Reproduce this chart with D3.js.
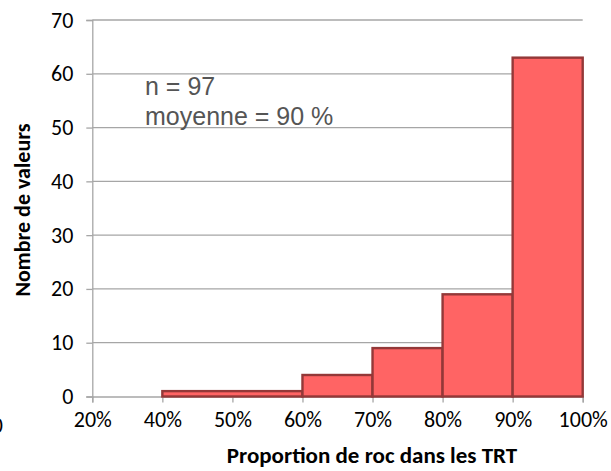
<!DOCTYPE html>
<html>
<head>
<meta charset="utf-8">
<script src="https://cdn.jsdelivr.net/npm/d3@7"></script>
<style>
  html, body { margin: 0; padding: 0; background: #fff; }
  svg { display: block; }
</style>
</head>
<body>
<svg id="chart" width="611" height="471"></svg>
<script>
// ---- data ----
const edgeLabels = ["20%", "40%", "50%", "60%", "70%", "80%", "90%", "100%"];
const binStart = ["40%", "60%", "70%", "80%", "90%"];
const binEnd   = ["60%", "70%", "80%", "90%", "100%"];
const counts   = [1, 4, 9, 19, 63];
const yTicks   = [0, 10, 20, 30, 40, 50, 60, 70];
const annotation = ["n = 97", "moyenne = 90 %"];
const xTitle = "Proportion de roc dans les TRT";
const yTitle = "Nombre de valeurs";

(function () {
// ---- layout ----
const svg = d3.select("#chart");
const pLeft = 92.3, pRight = 582.7, pTop = 20, pBottom = 396.5;
const labelFont = "Calibri, Carlito, Lato, 'Open Sans', sans-serif";

const x = d3.scalePoint().domain(edgeLabels).range([pLeft, pRight]);
const y = d3.scaleLinear().domain([0, 70]).range([pBottom, pTop]);

// gridlines
svg.append("g")
  .selectAll("line").data(yTicks.filter(d => d > 0)).join("line")
  .attr("x1", pLeft).attr("x2", pRight)
  .attr("y1", d => y(d)).attr("y2", d => y(d))
  .attr("stroke", "#a6a6a6").attr("stroke-width", 1.3);

// y axis
const yAxis = svg.append("g").attr("transform", `translate(${pLeft},0)`)
  .call(d3.axisLeft(y).tickValues(yTicks).tickSize(6).tickPadding(13).tickFormat(d3.format("d")));
yAxis.select(".domain").attr("stroke", "#a6a6a6").attr("stroke-width", 1.3);
yAxis.selectAll(".tick line").attr("stroke", "#a6a6a6").attr("stroke-width", 1.3);
yAxis.selectAll(".tick text").attr("font-family", labelFont).attr("font-size", 22)
  .attr("fill", "#000");

// x axis
const xAxis = svg.append("g").attr("transform", `translate(0,${pBottom})`)
  .call(d3.axisBottom(x).tickSize(6).tickPadding(9));
xAxis.select(".domain").attr("stroke", "#a6a6a6").attr("stroke-width", 1.3);
xAxis.selectAll(".tick line").attr("stroke", "#a6a6a6").attr("stroke-width", 1.3);
xAxis.selectAll(".tick text").attr("font-family", labelFont).attr("font-size", 22)
  .attr("fill", "#000");

// bars
const bins = counts.map((c, i) => ({ start: binStart[i], end: binEnd[i], count: c }));
svg.append("g").selectAll("rect").data(bins).join("rect")
  .attr("x", d => x(d.start))
  .attr("width", d => x(d.end) - x(d.start))
  .attr("y", d => y(d.count))
  .attr("height", d => y(0) - y(d.count))
  .attr("fill", "#ff6464")
  .attr("stroke", "#933838")
  .attr("stroke-width", 2.4);

// annotation
svg.append("g").selectAll("text").data(annotation).join("text")
  .attr("x", 145).attr("y", (d, i) => 95 + i * 30)
  .attr("font-family", "'Liberation Sans', Arial, Helvetica, sans-serif")
  .attr("font-size", 25).attr("fill", "#555")
  .text(d => d);

// axis titles
svg.append("text")
  .attr("x", 372).attr("y", 463).attr("text-anchor", "middle")
  .attr("font-family", labelFont).attr("font-weight", "bold").attr("font-size", 23)
  .attr("fill", "#000").text(xTitle);

svg.append("text")
  .attr("transform", "translate(30,210) rotate(-90)").attr("text-anchor", "middle")
  .attr("font-family", labelFont).attr("font-weight", "bold").attr("font-size", 22)
  .attr("fill", "#000").text(yTitle);

// clipped fragment of a neighbouring label at the far left edge
svg.append("text")
  .attr("x", 3).attr("y", 433).attr("text-anchor", "end")
  .attr("font-family", labelFont).attr("font-size", 22).attr("fill", "#000").text("0");
})();
</script>
</body>
</html>
